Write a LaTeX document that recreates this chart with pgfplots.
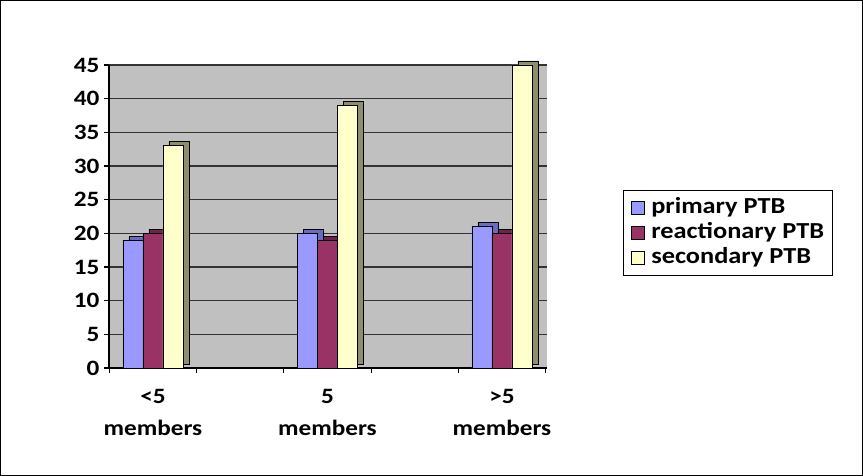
\documentclass[border=0pt]{standalone}
\usepackage{pgfplots}
\pgfplotsset{compat=1.18}
\usepackage{fontspec}
\setmainfont{Carlito}[FakeStretch=1.15]
\definecolor{cblue}{HTML}{9999FF}
\definecolor{cblueD}{HTML}{6A6AC0}
\definecolor{cred}{HTML}{993366}
\definecolor{credD}{HTML}{6E2449}
\definecolor{cyel}{HTML}{FFFFCC}
\definecolor{cyelD}{HTML}{8E8E6E}
\definecolor{wall}{HTML}{C0C0C0}
\begin{document}
\begin{tikzpicture}[x=1bp,y=1bp]
\useasboundingbox (0,0) rectangle (863,476);
\fill[white] (0,0) rectangle (863,476);
\draw[black,line width=1bp] (0.5,0.5) rectangle (862.5,475.5);
\begin{axis}[
  at={(109bp,108bp)}, anchor=south west,
  scale only axis, width=438bp, height=303bp, clip=false,
  xmin=-0.252, xmax=2.258, ymin=0, ymax=45,
  axis background/.style={fill=wall},
  axis x line*=bottom, axis y line*=left,
  axis line style={black, line width=1.2bp, -},
  ytick={0,5,...,45},
  ymajorgrids, grid style={black!80, line width=1.2bp},
  xtick={-0.25,0.25,0.75,1.25,1.75,2.25},
  xticklabels={},
  extra x ticks={0,1,2},
  extra x tick labels={{<5\\members},{5\\members},{>5\\members}},
  extra x tick style={major tick length=0pt, grid=none,
    xticklabel style={align=center, font=\bfseries\fontsize{22}{32}\selectfont, yshift=-18bp}},
  tick align=outside, major tick length=5bp,
  tick style={black, line width=1.2bp},
  yticklabel style={/pgf/number format/assume math mode=true, font=\bfseries\fontsize{22}{22}\selectfont, xshift=-1bp},
  ybar, bar width=20bp,
  legend cell align=left,
  legend style={at={(1.1735,0.5875)}, anchor=north west, draw=black, line width=1bp,
    font=\bfseries\fontsize{23}{25}\selectfont, row sep=0bp, inner xsep=7bp, inner ysep=5bp,
    nodes={inner sep=1bp, text height=17bp, text depth=6bp},
    /tikz/every odd column/.append style={column sep=6bp}},
  legend image code/.code={\draw[#1, line width=0.8bp] (0bp,-6bp) rectangle (13bp,7bp);},
]
% depth faces
\addplot[forget plot, bar shift=-20bp, fill=cblueD, draw=black, line width=0.8bp, xshift=6bp, yshift=4bp] coordinates {(0,19) (1,20) (2,21)};
\addplot[forget plot, bar shift=0bp, fill=credD, draw=black, line width=0.8bp, xshift=6bp, yshift=4bp] coordinates {(0,20) (1,19) (2,20)};
\addplot[forget plot, bar shift=20bp, fill=cyelD, draw=black, line width=0.8bp, xshift=6bp, yshift=4bp] coordinates {(0,33) (1,39) (2,45)};
% front faces
\addplot[bar shift=-20bp, fill=cblue, draw=black, line width=0.8bp] coordinates {(0,19) (1,20) (2,21)};
\addplot[bar shift=0bp, fill=cred, draw=black, line width=0.8bp] coordinates {(0,20) (1,19) (2,20)};
\addplot[bar shift=20bp, fill=cyel, draw=black, line width=0.8bp] coordinates {(0,33) (1,39) (2,45)};
\legend{primary PTB, reactionary PTB, secondary PTB}
\end{axis}
\end{tikzpicture}
\end{document}
